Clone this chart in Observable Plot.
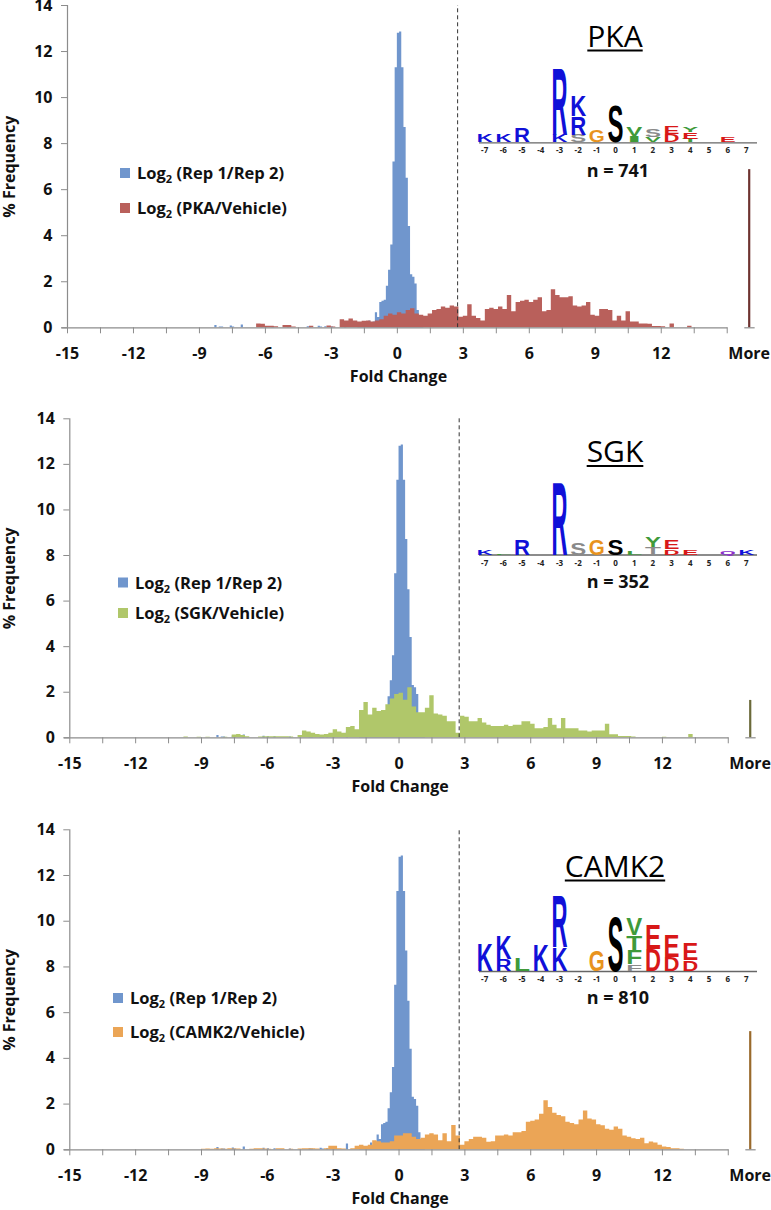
<!DOCTYPE html>
<html>
<head>
<meta charset="utf-8">
<script src="https://cdn.jsdelivr.net/npm/d3@7"></script>
<script src="https://cdn.jsdelivr.net/npm/@observablehq/plot@0.6"></script>
<style>
  html, body { margin: 0; padding: 0; background: #fff; overflow: hidden; }
  #root { width: 771px; }
  #root svg { display: block; }
</style>
</head>
<body>
<div id="root"></div>
<script>
// ---------------- DATA ----------------
// Log2(Rep1/Rep2) histogram (% frequency), fine bins of 0.1 starting at -8.4
const repStart = -8.4;
const repStep = 0.1;
const rep = [
  0, 0.1, 0, 0.03, 0.03, 0, 0, 0, 0.08, 0.03,
  0, 0, 0, 0.12, 0, 0, 0, 0, 0, 0,
  0, 0, 0.07, 0, 0.05, 0, 0, 0.05, 0, 0,
  0, 0, 0, 0, 0.03, 0, 0, 0, 0, 0,
  0, 0, 0, 0.05, 0.03, 0, 0, 0, 0.07, 0.03,
  0, 0.05, 0, 0, 0.04, 0, 0, 0, 0, 0,
  0.25, 0, 0, 0, 0, 0, 0.1, 0.1, 0.1, 0.12,
  0.15, 0.3, 0.15, 0.25, 0.65, 0.45, 1.1, 1.15, 1.2, 1.8,
  2.5, 3.6, 7.2, 11.3, 12.8, 12.85, 11.3, 8.7, 6.5, 4.4,
  2.3, 2.2, 1.9, 0.75, 0.3, 0.1
];

// Kinase / Vehicle histograms, bins of 0.2
const kinStep = 0.2;
const pkaStart = -6.4;
const pka = [
  0.17, 0.15, 0.07, 0.07, 0.05, 0, 0.1, 0.1, 0.03, 0,
  0, 0, 0.07, 0, 0, 0, 0.08, 0.03, 0, 0.35,
  0.3, 0.38, 0.3, 0.25, 0.28, 0.3, 0.25, 0.3, 0.35, 0.5,
  0.6, 0.55, 0.65, 0.6, 0.75, 0.83, 0.6, 0.55, 0.5, 0.6,
  0.75, 0.8, 0.9, 0.85, 0.95, 0.9, 0.46, 0.5, 1.0, 0.5,
  0.4, 0.3, 0.8, 0.85, 0.8, 0.9, 0.8, 1.4, 0.7, 1.1,
  1.15, 1.2, 1.1, 1.2, 1.3, 0.7, 0.75, 1.65, 1.4, 1.3,
  1.3, 1.35, 0.95, 0.9, 0.95, 1.1, 0.55, 0.5, 0.8, 0.8,
  0.75, 0.3, 0.5, 0.3, 0.7, 0.25, 0.25, 0.17, 0.17, 0.15,
  0.06, 0.06, 0.05, 0, 0.17, 0, 0, 0, 0.07, 0
];
const pkaMore = 6.87;

const sgkStart = -10.0;
const sgk = [
  0, 0.03, 0, 0, 0.02, 0, 0.02, 0, 0, 0,
  0.02, 0, 0.12, 0.15, 0.1, 0.05, 0, 0, 0.03, 0.05,
  0.05, 0.05, 0.05, 0.05, 0.05, 0.03, 0, 0.1, 0.3, 0.25,
  0.2, 0.15, 0.12, 0.15, 0.2, 0.35, 0.25, 0.2, 0.45, 0.5,
  0.35, 1.2, 1.55, 1.0, 1.3, 1.15, 1.2, 1.45, 1.7, 1.9,
  1.95, 1.65, 2.2, 1.35, 1.1, 1.1, 1.3, 1.85, 1.05, 1.0,
  0.95, 0.7, 0.7, 0.2, 0.95, 0.9, 0.7, 0.7, 0.85, 0.65,
  0.55, 0.5, 0.5, 0.5, 0.55, 0.5, 0.55, 0.55, 0.7, 0.7,
  0.6, 0.4, 0.4, 0.45, 0.85, 0.55, 0.4, 0.85, 0.4, 0.4,
  0.4, 0.3, 0.3, 0.25, 0.3, 0.3, 0.3, 0.6, 0.13, 0.13,
  0.06, 0.06, 0.06, 0.04, 0, 0, 0, 0, 0, 0,
  0.02, 0, 0, 0, 0, 0, 0.15, 0
];
const sgkMore = 1.64;

const camk2Start = -9.0;
const camk2 = [
  0.02, 0.03, 0.02, 0.05, 0.03, 0.02, 0.05, 0.03, 0.03, 0,
  0, 0.02, 0.05, 0.05, 0.03, 0.02, 0, 0.05, 0.05, 0,
  0.02, 0, 0.03, 0.05, 0.05, 0.05, 0.03, 0, 0.05, 0.15,
  0.15, 0.05, 0.03, 0, 0.05, 0.15, 0.2, 0.15, 0.2, 0.4,
  0.35, 0.3, 0.3, 0.35, 0.6, 0.6, 0.7, 0.7, 0.55, 0.45,
  0.5, 0.65, 0.7, 0.65, 0.4, 0.7, 0.35, 1.06, 0.6, 0.2,
  0.35, 0.45, 0.55, 0.55, 0.5, 0.33, 0.35, 0.6, 0.6, 0.65,
  0.6, 0.75, 0.75, 0.8, 1.2, 1.25, 1.3, 1.55, 2.15, 1.85,
  1.6, 1.5, 1.45, 1.2, 1.15, 1.1, 1.3, 1.7, 1.35, 1.3,
  1.1, 1.05, 0.9, 0.85, 1.0, 0.9, 0.6, 0.55, 0.48, 0.45,
  0.5, 0.27, 0.34, 0.3, 0.2, 0.12, 0.1, 0.05, 0.05, 0.02
];
const camk2More = 5.17;

// Threshold (dashed line) and "More" bin position on the fold-change axis
const threshold = 2.74;
const morePos = 16;

// Axis ticks / labels
const yTicks = [0, 2, 4, 6, 8, 10, 12, 14];
const xTickMarks = [-15, -13.5, -12, -10.5, -9, -7.5, -6, -4.5, -3, -1.5, 0, 1.5, 3, 4.5, 6, 7.5, 9, 10.5, 12, 13.5, 15];
const xLabelPos = [-15, -12, -9, -6, -3, 0, 3, 6, 9, 12, 16];
const xLabelText = ["-15", "-12", "-9", "-6", "-3", "0", "3", "6", "9", "12", "More"];

// Panel names, legend labels, n
const kinaseNames = ["PKA", "SGK", "CAMK2"];
const ratioLabels = ["PKA/Vehicle", "SGK/Vehicle", "CAMK2/Vehicle"];
const siteCounts = [741, 352, 810];

// Sequence logos: [position, residue, bits, residue group], stacked bottom -> top
const logoPositions = [-7, -6, -5, -4, -3, -2, -1, 0, 1, 2, 3, 4, 5, 6, 7];
const pkaLogo = [
  [-7, "K", 0.45, "basic"], [-6, "K", 0.45, "basic"], [-5, "R", 0.82, "basic"],
  [-3, "K", 0.45, "basic"], [-3, "R", 4.06, "basic"],
  [-2, "S", 0.45, "polar"], [-2, "R", 1.12, "basic"], [-2, "K", 1.28, "basic"],
  [-1, "G", 0.69, "gly"], [0, "S", 2.16, "site"],
  [1, "I", 0.39, "hydro"], [1, "V", 0.53, "hydro"],
  [2, "V", 0.34, "hydro"], [2, "S", 0.49, "polar"],
  [3, "D", 0.49, "acid"], [3, "E", 0.43, "acid"],
  [4, "T", 0.19, "hydro"], [4, "E", 0.39, "acid"], [4, "Y", 0.34, "hydro"],
  [6, "E", 0.29, "acid"]
];
const sgkLogo = [
  [-7, "K", 0.29, "basic"], [-6, "L", 0.09, "hydro"], [-5, "R", 0.92, "basic"],
  [-3, "R", 4.39, "basic"], [-2, "S", 0.72, "polar"], [-1, "G", 0.92, "gly"],
  [0, "S", 0.92, "site"], [1, "L", 0.24, "hydro"],
  [2, "T", 0.43, "polar"], [2, "Y", 0.59, "hydro"],
  [3, "D", 0.34, "acid"], [3, "E", 0.53, "acid"],
  [4, "E", 0.28, "acid"], [6, "Q", 0.24, "amide"], [7, "K", 0.29, "basic"]
];
const camk2Logo = [
  [-7, "K", 1.63, "basic"], [-6, "R", 0.71, "basic"], [-6, "K", 1.37, "basic"],
  [-5, "L", 0.75, "hydro"], [-4, "K", 1.53, "basic"],
  [-3, "K", 1.43, "basic"], [-3, "R", 3.14, "basic"],
  [-1, "G", 1.24, "gly"], [0, "S", 3.29, "site"],
  [1, "F", 0.39, "polar"], [1, "F", 0.84, "hydro"], [1, "T", 0.88, "hydro"], [1, "V", 0.98, "hydro"],
  [2, "D", 1.29, "acid"], [2, "E", 1.47, "acid"],
  [3, "D", 0.84, "acid"], [3, "E", 1.31, "acid"],
  [4, "D", 0.65, "acid"], [4, "E", 0.98, "acid"]
];

// ---------------- STYLE / LAYOUT ----------------
const BLUE = "#7096cd";
const AXIS = "#8c8c8c";
const TEXT = "#111";
const styles = [
  {color: "#b9605b", moreColor: "#6e3330"},
  {color: "#b0c76a", moreColor: "#6b6a3a"},
  {color: "#eba556", moreColor: "#9a6a2c"}
];
const layouts = [
  {height: 400, mt: 5, mb: 72.7, ml: 67, mr: 11.3, legendX: 120, legendY: [173, 208], titleY: 46.7, underlineY: 50.5, nY: 177, logoBase: 142.3, yLabelDx: -57.2, yLabelDy: 0},
  {height: 400, mt: 18.3, mb: 62.7, ml: 69.3, mr: 10.3, legendX: 118, legendY: [182.5, 213], titleY: 62, underlineY: 66, nY: 188.3, logoBase: 154.5, yLabelDx: -59.5, yLabelDy: 0},
  {height: 410, mt: 29.3, mb: 60.7, ml: 69.3, mr: 10.3, legendX: 113, legendY: [198, 232], titleY: 77, underlineY: 80.5, nY: 204, logoBase: 171, yLabelDx: -59.5, yLabelDy: 10}
];
const groupColor = {basic: "#1010d8", acid: "#d81818", hydro: "#3f9a3a", polar: "#8a8a8a", gly: "#e8931e", site: "#000000", amide: "#8b2fc9"};
const FONT = "'Open Sans', 'Liberation Sans', sans-serif";
const LOGO_FONT = "'Liberation Sans', Arial, sans-serif";

// ---------------- BUILD ----------------
const panelsData = [
  {start: pkaStart, values: pka, more: pkaMore, logo: pkaLogo},
  {start: sgkStart, values: sgk, more: sgkMore, logo: sgkLogo},
  {start: camk2Start, values: camk2, more: camk2More, logo: camk2Logo}
];

function toBins(start, step, values) {
  const out = values.map((v, i) => ({x: start + i * step, y: v}));
  out.push({x: start + values.length * step, y: 0});
  return out;
}

const xLabelMap = new Map(xLabelPos.map((p, i) => [p, xLabelText[i]]));
const root = document.getElementById("root");

panelsData.forEach((pd, k) => {
  const L = layouts[k], S = styles[k];
  const chart = Plot.plot({
    width: 771,
    height: L.height,
    marginTop: L.mt, marginBottom: L.mb, marginLeft: L.ml, marginRight: L.mr,
    x: {domain: [-15, 16.5]},
    y: {domain: [0, 14]},
    style: {fontFamily: FONT, fontSize: "16px", fontWeight: "bold", color: TEXT, background: "#fff"},
    marks: [
      Plot.areaY(toBins(repStart, repStep, rep), {x: "x", y: "y", curve: "step-after", fill: BLUE}),
      Plot.areaY(toBins(pd.start, kinStep, pd.values), {x: "x", y: "y", curve: "step-after", fill: S.color}),
      Plot.ruleX([{x: morePos, y: pd.more}], {x: "x", y1: 0, y2: "y", stroke: S.moreColor, strokeWidth: 2.2}),
      Plot.ruleX([threshold], {y1: 0, y2: 14, stroke: "#333", strokeWidth: 1, strokeDasharray: "4,3"}),
      Plot.ruleY([0], {x1: -15.25, x2: 15.03, stroke: AXIS, strokeWidth: 1.2}),
      Plot.ruleY([0], {x1: 15.8, x2: 16.27, stroke: AXIS, strokeWidth: 1.2}),
      Plot.ruleX([-15], {y1: 0, y2: 14, stroke: AXIS, strokeWidth: 1.2}),
      Plot.axisY({ticks: yTicks, tickSize: 6, tickPadding: 9, tickFormat: d => String(d), stroke: AXIS, fill: TEXT, fontSize: 16, fontWeight: "bold", label: null}),
      Plot.axisX({ticks: xTickMarks, tickSize: 6, tickFormat: () => "", stroke: AXIS, label: null}),
      Plot.axisX({ticks: xLabelPos, tickSize: 0, tickPadding: 20, tickFormat: d => xLabelMap.get(d), fill: TEXT, fontSize: 16, fontWeight: "bold", label: null}),
      Plot.text(["Fold Change"], {x: 0.05, y: 0, dy: 49.4, text: d => d, fontSize: 16, fontWeight: "bold", fill: TEXT}),
      Plot.text(["% Frequency"], {x: -15, y: 7, dx: L.yLabelDx, dy: L.yLabelDy, rotate: -90, text: d => d, fontSize: 16, fontWeight: "bold", fill: TEXT})
    ]
  });
  root.append(chart);

  const svg = d3.select(chart);

  // Legend
  const items = [{color: BLUE, name: "Rep 1/Rep 2"}, {color: S.color, name: ratioLabels[k]}];
  items.forEach((it, i) => {
    const cy = L.legendY[i];
    svg.append("rect").attr("x", L.legendX).attr("y", cy - 5).attr("width", 10).attr("height", 10).attr("fill", it.color);
    const t = svg.append("text").attr("x", L.legendX + 17).attr("y", cy + 6)
      .attr("text-anchor", "start").attr("font-size", 16.5).attr("font-weight", "bold")
      .attr("font-family", FONT).attr("fill", TEXT);
    t.append("tspan").text("Log");
    t.append("tspan").attr("font-size", 11).attr("dy", 4).text("2");
    t.append("tspan").attr("dy", -4).text(" (" + it.name + ")");
  });

  // Title with underline
  const TX = 615;
  const title = svg.append("text").attr("x", TX).attr("y", L.titleY).attr("text-anchor", "middle")
    .attr("font-size", 30).attr("font-weight", "normal").attr("font-family", FONT).attr("fill", "#000")
    .text(kinaseNames[k]);
  const tw = title.node().getComputedTextLength();
  svg.append("line").attr("x1", TX - tw / 2).attr("x2", TX + tw / 2)
    .attr("y1", L.underlineY).attr("y2", L.underlineY).attr("stroke", "#000").attr("stroke-width", 2);

  // n = ...
  svg.append("text").attr("x", 618).attr("y", L.nY).attr("text-anchor", "middle")
    .attr("font-size", 18).attr("font-weight", "bold").attr("font-family", FONT).attr("fill", TEXT)
    .text("n = " + siteCounts[k]);

  // Sequence logo
  const LX0 = 484.7, LDX = 18.69, PX_PER_BIT = 17, LW = 16, base = L.logoBase;
  const lg = svg.append("g");
  lg.append("line").attr("x1", 479).attr("x2", 757).attr("y1", base + 0.5).attr("y2", base + 0.5)
    .attr("stroke", "#666").attr("stroke-width", 1.3);
  logoPositions.forEach(pos => {
    lg.append("text").attr("x", LX0 + (pos + 7) * LDX).attr("y", base + 11)
      .attr("text-anchor", "middle").attr("font-size", 8).attr("font-weight", "bold")
      .attr("font-family", FONT).attr("fill", "#222").text(String(pos));
  });
  const stackH = new Map();
  pd.logo.forEach(([pos, letter, bits, group]) => {
    const h = bits * PX_PER_BIT;
    const acc = stackH.get(pos) || 0;
    stackH.set(pos, acc + h);
    const cx = LX0 + (pos + 7) * LDX;
    const t = lg.append("text").attr("font-family", LOGO_FONT).attr("font-weight", "bold")
      .attr("font-size", 100).attr("text-anchor", "middle").attr("fill", groupColor[group]).text(letter);
    const len = t.node().getComputedTextLength() || 70;
    t.attr("transform", `translate(${cx},${base - acc}) scale(${LW / len},${h / 72})`);
  });
});
</script>
</body>
</html>
